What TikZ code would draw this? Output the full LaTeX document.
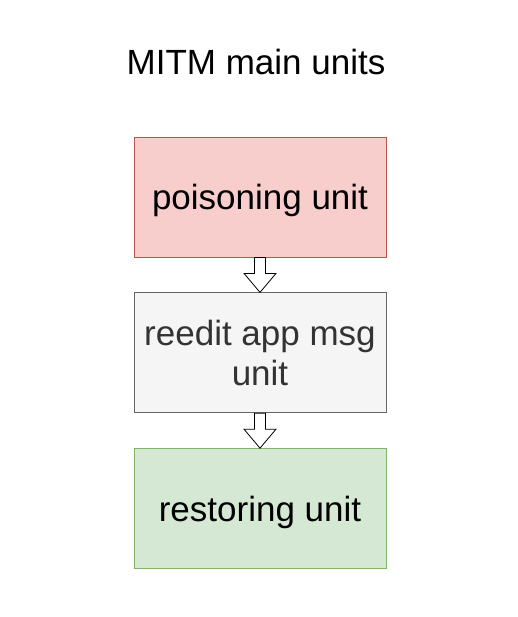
\documentclass[tikz,border=0pt]{standalone}
\usepackage{fontspec}
\setmainfont{Liberation Sans}
\usetikzlibrary{positioning,calc}

\definecolor{redfill}{HTML}{F8CECC}
\definecolor{redline}{HTML}{B85450}
\definecolor{grayfill}{HTML}{F5F5F5}
\definecolor{grayline}{HTML}{666666}
\definecolor{graytext}{HTML}{333333}
\definecolor{greenfill}{HTML}{D5E8D4}
\definecolor{greenline}{HTML}{82B366}

\tikzset{
  unit/.style={draw, line width=0.8pt, minimum width=252pt, minimum height=120pt,
    align=center, font=\fontsize{35}{40}\selectfont, inner sep=0pt},
  oneline/.style={text depth=0pt},
}

% hollow block arrow from the bottom of #1 to the top of #2
\newcommand{\blockarrow}[2]{
  \draw[black, fill=white, line width=0.8pt]
    ($(#1.south)+(-5.5,0)$) -- ($(#2.north)+(-5.5,-19)$) -- ($(#2.north)+(-16,-19)$)
    -- (#2.north) -- ($(#2.north)+(16,-19)$) -- ($(#2.north)+(5.5,-19)$)
    -- ($(#1.south)+(5.5,0)$) -- cycle;
}

\begin{document}
\begin{tikzpicture}[x=1pt, y=-1pt]
        \useasboundingbox (0,0) rectangle (517,617);

        \node[font=\fontsize{35}{40}\selectfont] (title) at (256,62) {MITM main units};

        \node[unit, oneline, fill=redfill, draw=redline] (poison) at (260,197) {poisoning unit};
        \node[unit, fill=grayfill, draw=grayline, text=graytext, below=35pt of poison] (reedit) {reedit app msg\\unit};
        \node[unit, oneline, fill=greenfill, draw=greenline, below=35pt of reedit] (restore) {restoring unit};

        \blockarrow{poison}{reedit}
        \blockarrow{reedit}{restore}
    \end{tikzpicture}
\end{document}
